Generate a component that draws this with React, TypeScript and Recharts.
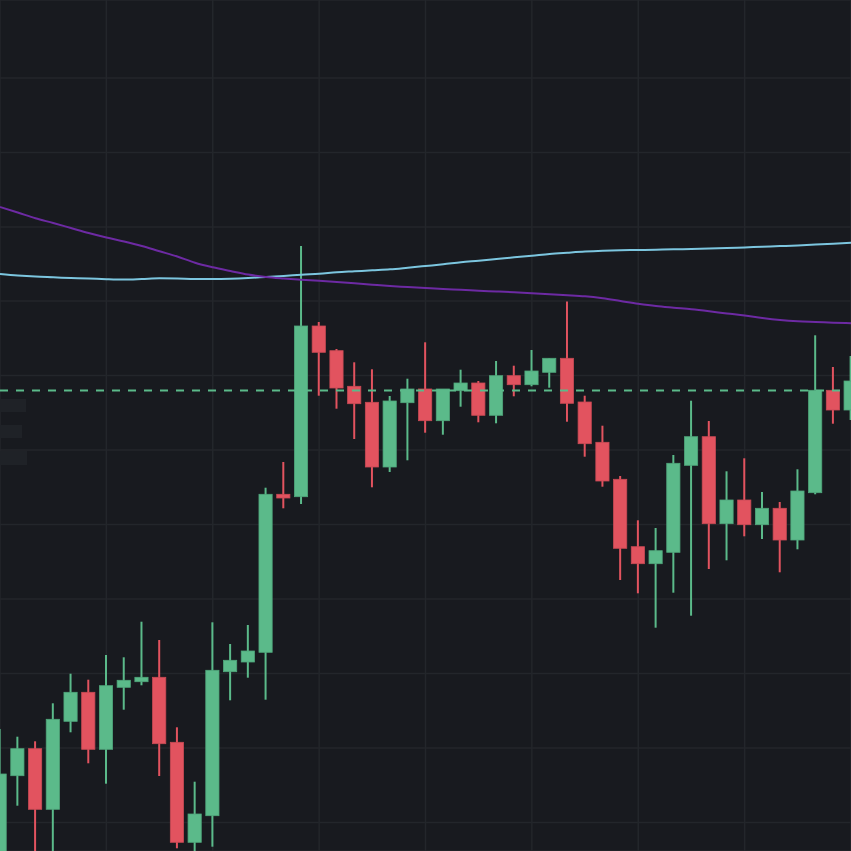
import React from 'react';
import { ComposedChart, Bar, Line, XAxis, YAxis, CartesianGrid, ReferenceLine } from 'recharts';

const GREEN = '#5bba8a';
const RED = '#e2535f';

const opens = [12.0, 22.43, 25.13, 19.07, 27.87, 30.77, 25.07, 31.27, 31.83, 32.27, 25.77, 15.77, 18.43, 32.83, 33.8, 34.77, 50.57, 50.33, 67.4, 64.93, 61.37, 59.77, 53.3, 59.73, 61.1, 57.93, 60.93, 61.7, 58.47, 62.43, 61.53, 62.77, 64.17, 59.8, 55.77, 52.07, 45.33, 43.63, 44.77, 53.47, 56.33, 47.63, 50.0, 47.53, 49.17, 46.0, 50.73, 60.97, 59.0];
const highs = [27.1, 26.33, 25.87, 29.67, 32.63, 32.03, 34.5, 34.27, 37.83, 36.0, 27.27, 21.83, 37.77, 35.6, 37.5, 51.23, 53.8, 75.4, 67.8, 65.1, 63.77, 63.07, 60.4, 62.13, 65.77, 61.1, 63.03, 61.9, 63.9, 63.43, 65.0, 64.17, 69.85, 60.43, 57.43, 52.4, 47.97, 47.2, 54.5, 59.93, 57.9, 52.87, 54.17, 50.8, 49.8, 53.07, 66.47, 63.3, 64.4];
const lows = [10.5, 19.43, 13.8, 14.2, 26.77, 23.67, 21.63, 29.03, 31.47, 22.4, 15.17, 14.4, 15.33, 29.97, 32.23, 30.03, 49.17, 49.6, 60.43, 59.13, 56.1, 51.27, 52.8, 53.97, 56.73, 56.53, 59.33, 57.77, 57.67, 60.37, 61.37, 61.23, 57.83, 54.33, 51.33, 42.0, 40.67, 37.23, 40.73, 38.43, 43.1, 43.97, 46.37, 46.1, 42.77, 45.07, 50.57, 57.63, 58.0];
const closes = [22.6, 25.13, 19.07, 28.07, 30.77, 25.07, 31.43, 31.97, 32.27, 25.63, 15.77, 18.6, 32.97, 33.97, 34.9, 50.57, 50.2, 67.4, 64.77, 61.2, 59.63, 53.3, 59.9, 61.1, 57.93, 61.1, 61.7, 58.47, 62.43, 61.53, 62.9, 64.17, 59.67, 55.63, 51.9, 45.17, 43.63, 44.93, 53.67, 56.33, 47.63, 50.0, 47.53, 49.17, 46.0, 50.9, 60.97, 59.0, 61.9];

const maFast = [72.6, 72.45, 72.34, 72.27, 72.2, 72.15, 72.08, 72.04, 72.1, 72.18, 72.16, 72.1, 72.1, 72.13, 72.2, 72.3, 72.4, 72.53, 72.63, 72.77, 72.87, 72.97, 73.07, 73.23, 73.4, 73.57, 73.77, 73.93, 74.1, 74.27, 74.43, 74.6, 74.73, 74.85, 74.93, 74.98, 75.0, 75.03, 75.07, 75.1, 75.14, 75.19, 75.26, 75.32, 75.39, 75.46, 75.54, 75.63, 75.73];
const maSlow = [79.3, 78.75, 78.17, 77.7, 77.2, 76.7, 76.25, 75.85, 75.4, 74.87, 74.35, 73.72, 73.27, 72.9, 72.55, 72.3, 72.15, 72.03, 71.92, 71.8, 71.67, 71.53, 71.4, 71.3, 71.2, 71.1, 71.03, 70.93, 70.85, 70.77, 70.67, 70.57, 70.48, 70.37, 70.17, 69.9, 69.63, 69.4, 69.23, 69.07, 68.87, 68.65, 68.45, 68.2, 68.0, 67.87, 67.8, 67.73, 67.68];

const lastPrice = 60.95;
const priceTicks = [17.75, 25.2, 32.65, 40.1, 47.55, 55.0, 62.45, 69.9, 77.3, 84.75, 92.2];
const timeTicks = [0, 6, 12, 18, 24, 30, 36, 42, 48];

const data = opens.map((o, i) => ({
  i,
  open: o,
  high: highs[i],
  low: lows[i],
  close: closes[i],
  maFast: maFast[i],
  maSlow: maSlow[i],
}));

const Candle = (props: any) => {
  const { x, y, width, height, payload } = props;
  if (x == null || y == null || !payload) return null;
  const cx = x + width / 2;
  const top = Math.min(y, y + height);
  const h = Math.abs(height);
  const { open, close, high, low } = payload;
  const ratio = h / (high - low);
  const yOf = (v: number) => top + (high - v) * ratio;
  const up = close >= open;
  const color = up ? GREEN : RED;
  const bTop = yOf(Math.max(open, close));
  const bBot = yOf(Math.min(open, close));
  return (
    <g>
      <line x1={cx} x2={cx} y1={top} y2={top + h} stroke={color} strokeWidth={2} />
      <rect x={cx - 6.6} y={bTop} width={13.2} height={Math.max(1.5, bBot - bTop)} fill={color} stroke={up ? '#4fa67b' : '#c94a55'} strokeWidth={0.8} />
    </g>
  );
};

export default function App() {
  return (
    <div style={{ position: 'fixed', left: 0, top: 0, width: 851, height: 851, overflow: 'hidden', background: '#181a1f' }}>
      <ComposedChart width={851} height={851} data={data} margin={{ top: 0, right: 0, bottom: 0, left: 0 }} style={{ background: '#181a1f' }}>
        <CartesianGrid stroke="#23262b" strokeWidth={1.5} />
        <XAxis dataKey="i" type="number" domain={[0, 48]} ticks={timeTicks} hide allowDataOverflow />
        <YAxis type="number" domain={[14.9, 100]} ticks={priceTicks} hide allowDataOverflow />
        <Bar dataKey={(d: any) => [d.low, d.high]} barSize={13} shape={<Candle />} isAnimationActive={false} />
        <Line type="monotone" dataKey="maFast" stroke="#7cc6df" strokeWidth={2} dot={false} activeDot={false} isAnimationActive={false} />
        <Line type="monotone" dataKey="maSlow" stroke="#6d2aa3" strokeWidth={2} dot={false} activeDot={false} isAnimationActive={false} />
        <ReferenceLine y={lastPrice} stroke={GREEN} strokeWidth={2} strokeDasharray="8 8" />
      </ComposedChart>
      <div style={{ position: 'absolute', left: 0, top: 399, width: 26, height: 13, background: '#1f2227' }} />
      <div style={{ position: 'absolute', left: 0, top: 425, width: 22, height: 13, background: '#1f2227' }} />
      <div style={{ position: 'absolute', left: 0, top: 451, width: 27, height: 14, background: '#1f2227' }} />
    </div>
  );
}
